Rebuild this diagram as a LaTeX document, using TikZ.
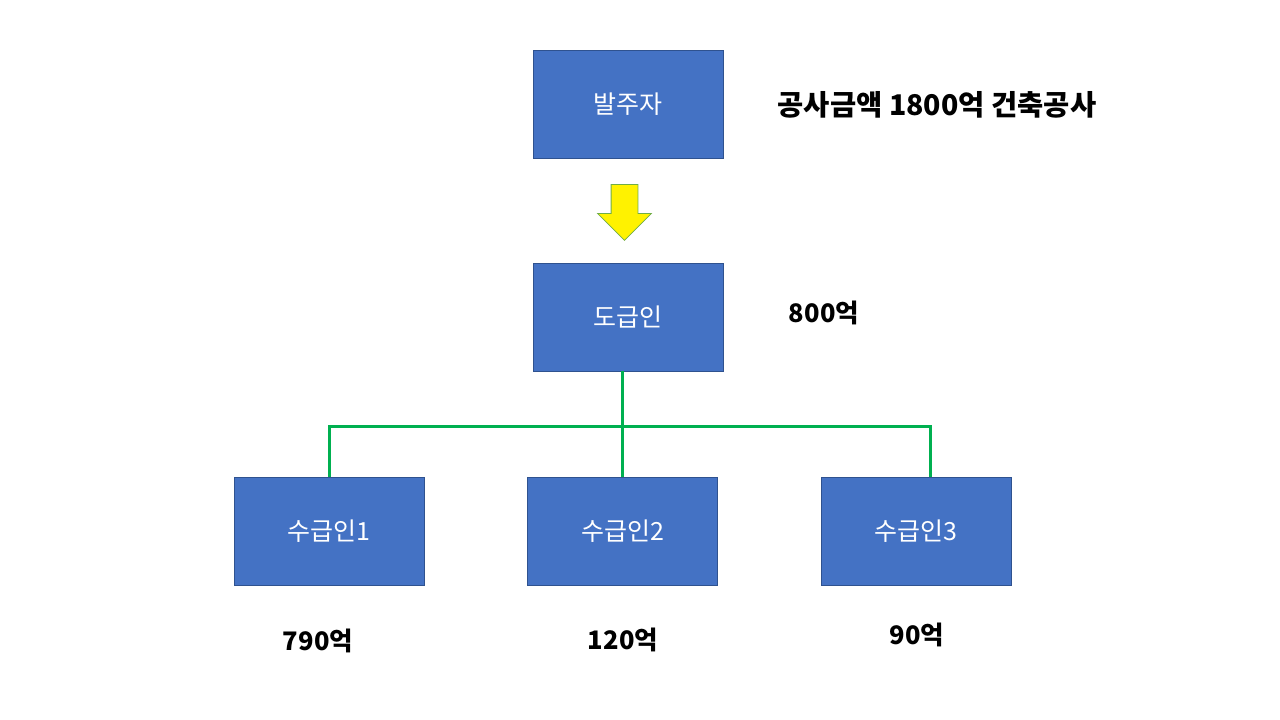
\documentclass[tikz,border=0pt]{standalone}
\usepackage{fontspec}
\setmainfont{Noto Sans CJK KR}
\usetikzlibrary{shapes.arrows}
\definecolor{boxblue}{HTML}{4472C4}
\definecolor{boxline}{HTML}{2F528F}
\definecolor{busgreen}{HTML}{00B050}
\definecolor{arrowline}{HTML}{70AD47}
\begin{document}
\begin{tikzpicture}[x=1pt,y=-1pt,
    party/.style ={rectangle, draw=boxline, fill=boxblue, text=white,
      minimum width=190pt, minimum height=108pt, inner sep=0pt,
      font=\fontsize{25}{30}\selectfont},
    amount/.style ={font=\bfseries\fontsize{25.5}{30}\selectfont, inner sep=0pt},
    branch/.style ={draw=busgreen, line width=3pt}]
   \useasboundingbox (0,0) rectangle (1280,720);
   \node[party] (client) at (628,104)  {발주자};
   \node[party] (prime) at (628,317)  {도급인};
   \node[party] (sub1) at (329,531)  {수급인1};
   \node[party] (sub2) at (622.5,531)  {수급인2};
   \node[party] (sub3) at (916,531)  {수급인3};
   \node[single arrow, draw=arrowline, line width=0.8pt, fill=yellow, rotate=-90,
     minimum height=56pt, inner xsep=0pt, inner ysep=13pt,
     single arrow head extend=13.5pt, anchor=tail] (flow) at (624.5,184) {};
   \node[amount, font=\bfseries\fontsize{28.5}{34}\selectfont] (total) at (937,105)  {공사금액 1800억 건축공사};
   \node[amount] (pay0) at (824,313)  {800억};
   \node[amount] (pay1) at (318,641)  {790억};
   \node[amount] (pay2) at (623,640)  {120억};
   \node[amount] (pay3) at (917,635)  {90억};
   \coordinate (drop3) at ([xshift=14pt]sub3.north);
   \draw[branch] (sub2.north) to (sub2.north |- prime.south);
   \draw[branch] (sub1.north) -- ++(0,-50) -| (drop3);
 \end{tikzpicture}
\end{document}
